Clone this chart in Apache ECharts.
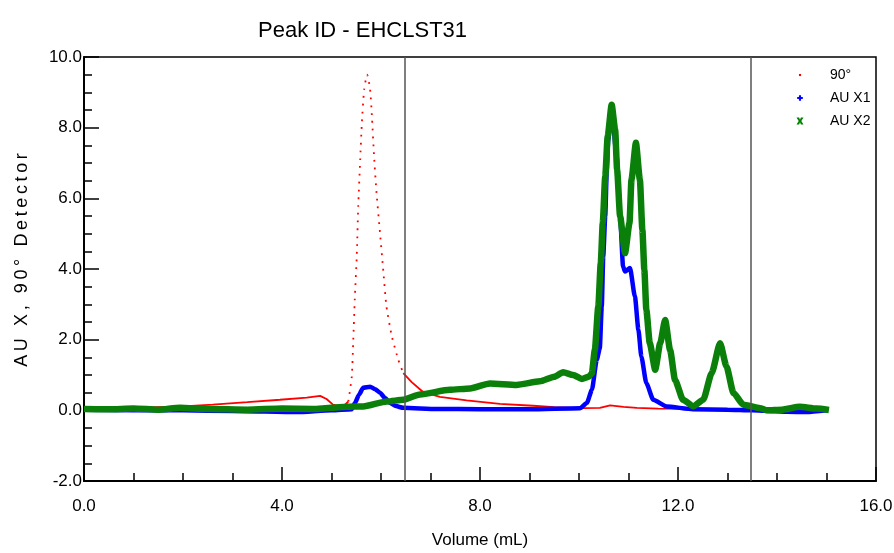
<!DOCTYPE html>
<html>
<head>
<meta charset="utf-8">
<script src="https://cdn.jsdelivr.net/npm/echarts@6/dist/echarts.min.js"></script>
<style>
  html, body { margin: 0; padding: 0; background: #fff; }
  #chart { width: 894px; height: 553px; }
</style>
</head>
<body>
<div id="chart"></div>
<script>
// Trace values: volume (mL) and detector response
const red90Vol = [0.0, 1.0, 1.3, 2.0, 2.6, 3.3, 3.96, 4.5, 4.77, 4.9, 5.03, 5.23, 5.34, 5.41, 5.44, 5.47, 5.51, 5.54, 5.58, 5.61, 5.66, 5.72, 5.78, 5.82, 5.86, 5.91, 5.98, 6.05, 6.11, 6.22, 6.35, 6.45, 6.62, 6.85, 7.19, 7.73, 8.4, 9.07, 9.5, 10.08, 10.42, 10.63, 10.9, 11.17, 11.6, 12.5, 13.5, 15.0];
const red90Val = [0.02, 0.03, 0.08, 0.11, 0.16, 0.23, 0.3, 0.36, 0.41, 0.32, 0.16, 0.1, 0.25, 0.96, 2.0, 3.13, 4.36, 5.77, 7.1, 8.04, 9.08, 9.5, 9.08, 8.23, 7.19, 6.15, 5.02, 3.89, 2.94, 2.09, 1.43, 1.05, 0.8, 0.52, 0.38, 0.28, 0.18, 0.13, 0.09, 0.06, 0.07, 0.14, 0.1, 0.07, 0.05, 0.04, 0.03, 0.02];

const aux1Vol = [0.0, 1.0, 2.0, 3.0, 4.3, 5.0, 5.41, 5.47, 5.56, 5.64, 5.78, 5.88, 5.98, 6.08, 6.18, 6.3, 6.45, 7.13, 8.0, 9.0, 10.02, 10.16, 10.26, 10.36, 10.42, 10.46, 10.49, 10.53, 10.56, 10.59, 10.66, 10.76, 10.83, 10.89, 10.93, 11.03, 11.13, 11.2, 11.26, 11.36, 11.5, 11.77, 12.3, 13.0, 13.5, 14.2, 14.6, 15.0];
const aux1Val = [0.02, 0.0, 0.0, -0.02, -0.05, 0.0, 0.03, 0.2, 0.45, 0.64, 0.67, 0.6, 0.5, 0.35, 0.21, 0.12, 0.07, 0.04, 0.03, 0.03, 0.06, 0.21, 0.58, 1.43, 1.75, 2.94, 4.36, 5.49, 6.73, 7.66, 8.51, 7.19, 5.49, 4.07, 3.93, 4.03, 3.22, 2.28, 1.52, 0.77, 0.3, 0.11, 0.03, 0.02, 0.0, -0.04, -0.05, 0.0];

const aux2Vol = [0.0, 0.5, 1.0, 1.5, 1.94, 2.5, 3.3, 4.0, 4.63, 5.0, 5.3, 5.64, 6.12, 6.45, 6.79, 7.39, 7.8, 8.2, 8.74, 9.21, 9.5, 9.68, 9.88, 10.06, 10.2, 10.26, 10.32, 10.39, 10.44, 10.48, 10.53, 10.58, 10.66, 10.73, 10.77, 10.83, 10.93, 11.02, 11.06, 11.15, 11.23, 11.28, 11.32, 11.36, 11.43, 11.54, 11.64, 11.74, 11.84, 11.94, 12.1, 12.31, 12.51, 12.68, 12.85, 12.98, 13.12, 13.32, 13.66, 13.8, 14.1, 14.46, 14.8, 15.05];
const aux2Val = [0.04, 0.03, 0.05, 0.02, 0.07, 0.04, 0.02, 0.05, 0.04, 0.07, 0.1, 0.11, 0.25, 0.3, 0.45, 0.58, 0.62, 0.76, 0.72, 0.82, 0.95, 1.08, 1.0, 0.89, 0.95, 1.05, 1.71, 2.94, 4.17, 5.3, 6.62, 7.76, 8.65, 7.95, 6.81, 5.49, 4.45, 5.3, 6.53, 7.57, 6.53, 5.11, 3.98, 2.85, 1.9, 1.15, 1.9, 2.56, 1.71, 0.86, 0.3, 0.11, 0.3, 1.05, 1.9, 1.24, 0.49, 0.16, 0.06, 0.0, 0.02, 0.1, 0.05, 0.01];

// Vertical marker lines (mL)
const markerVols = [6.47, 13.47];

// Axis ranges
const xTicks = { min: 0, max: 16, step: 4 };
const yTicks = { min: -2, max: 10, step: 2 };

const FONT = '"Liberation Sans", Arial, sans-serif';

const pair = (xs, ys) => xs.map((v, i) => [v, ys[i]]);
const redPts = pair(red90Vol, red90Val);
// the steep part of the 90° trace shows as separate dots
const redDotted = redPts.filter(p => p[0] >= 5.34 && p[0] <= 6.45);
const redSolid = redPts.filter(p => p[0] <= 5.34)
  .concat([[5.9, '-']])
  .concat(redPts.filter(p => p[0] >= 6.45));

const yName = 'AU X, 90° Detector'.split('').join('\u2009');

const chart = echarts.init(document.getElementById('chart'));

chart.setOption({
  animation: false,
  backgroundColor: '#fff',
  title: {
    text: 'Peak ID - EHCLST31',
    left: 253,
    top: 15,
    textStyle: { fontFamily: FONT, fontSize: 22, fontWeight: 'normal', color: '#000' },
  },
  legend: {
    orient: 'vertical',
    left: 788,
    top: 63,
    itemWidth: 50,
    itemHeight: 14,
    itemGap: 9,
    itemStyle: { borderWidth: 0 },
    textStyle: { fontFamily: FONT, fontSize: 14, color: '#000' },
    data: [
      { name: '90°', icon: 'path://M0,0M20,20M8.5,8.5h3v3h-3z' },
      { name: 'AU X1', icon: 'path://M0,0M20,20M8.5,6h3v2.5h2.5v3h-2.5v2.5h-3v-2.5h-2.5v-3h2.5z' },
      { name: 'AU X2', icon: 'path://M0,0M16,16M4,4h3l1,2.5l1,-2.5h3l-2.5,4l2.5,4h-3l-1,-2.5l-1,2.5h-3l2.5,-4z' },
    ],
  },
  grid: {
    left: 84,
    right: 18,
    top: 57,
    bottom: 72,
    outerBoundsMode: 'none',
    show: true,
    borderColor: '#000',
    borderWidth: 1.5,
  },
  xAxis: {
    type: 'value',
    min: xTicks.min,
    max: xTicks.max,
    interval: xTicks.step,
    name: 'Volume (mL)',
    nameLocation: 'middle',
    nameGap: 51,
    nameTextStyle: { fontFamily: FONT, fontSize: 17, color: '#000' },
    axisLine: { onZero: false, lineStyle: { color: '#000', width: 2 } },
    axisTick: { inside: true, length: 14, lineStyle: { color: '#000', width: 1.5 } },
    minorTick: { show: true, splitNumber: 4, length: 8, lineStyle: { color: '#000', width: 1.5 } },
    splitLine: { show: false },
    axisLabel: {
      margin: 17,
      fontFamily: FONT,
      fontSize: 17,
      color: '#000',
      formatter: v => v.toFixed(1),
    },
  },
  yAxis: {
    type: 'value',
    min: yTicks.min,
    max: yTicks.max,
    interval: yTicks.step,
    name: yName,
    nameLocation: 'middle',
    nameGap: 53,
    nameTextStyle: { fontFamily: FONT, fontSize: 18, color: '#000', padding: [0, 0, 0, 18] },
    axisLine: { lineStyle: { color: '#000', width: 2 } },
    axisTick: { inside: true, length: 15, lineStyle: { color: '#000', width: 1.5 } },
    minorTick: { show: true, splitNumber: 4, length: 8, lineStyle: { color: '#000', width: 1.5 } },
    splitLine: { show: false },
    axisLabel: {
      margin: 2,
      fontFamily: FONT,
      fontSize: 17,
      color: '#000',
      formatter: v => v.toFixed(1),
    },
  },
  series: [
    {
      name: '90° base',
      type: 'line',
      data: redSolid,
      showSymbol: false,
      symbol: 'none',
      color: '#ff0000',
      lineStyle: { color: '#ff0000', width: 1.8 },
      z: 2,
    },
    {
      name: '90°',
      type: 'line',
      data: redDotted,
      showSymbol: false,
      symbol: 'none',
      smooth: 0.2,
      color: '#ff0000',
      lineStyle: { color: '#ff0000', width: 1.8, type: [1.8, 6] },
      z: 2,
    },
    {
      name: 'AU X1',
      type: 'line',
      data: pair(aux1Vol, aux1Val),
      showSymbol: false,
      symbol: 'none',
      smooth: 0.2,
      smoothMonotone: 'x',
      color: '#0000ff',
      lineStyle: { color: '#0000ff', width: 4.5 },
      z: 3,
    },
    {
      name: 'AU X2',
      type: 'line',
      data: pair(aux2Vol, aux2Val),
      showSymbol: false,
      symbol: 'none',
      smooth: 0.2,
      smoothMonotone: 'x',
      color: '#008000',
      lineStyle: { color: '#0a800a', width: 6.5 },
      z: 4,
      markLine: {
        silent: true,
        symbol: ['none', 'none'],
        label: { show: false },
        lineStyle: { color: '#555', type: 'solid', width: 1.5 },
        data: markerVols.map(v => ({ xAxis: v })),
      },
    },
  ],
});
</script>
</body>
</html>
